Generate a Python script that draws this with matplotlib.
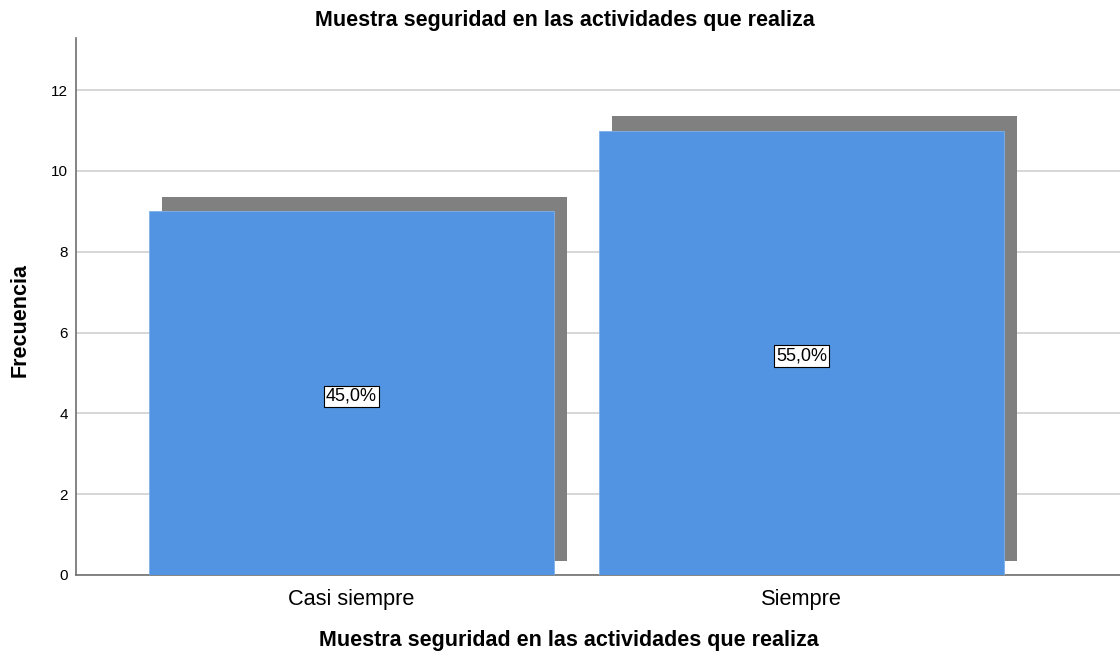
import matplotlib
matplotlib.use("Agg")
from matplotlib import pyplot as plt

categories = ["Casi siempre", "Siempre"]
counts = [9, 11]
percents = ["45,0%", "55,0%"]
y_ticks = [0, 2, 4, 6, 8, 10, 12]
title = "Muestra seguridad en las actividades que realiza"

plt.rcParams['font.family'] = ['Liberation Sans', 'DejaVu Sans']

fig = plt.figure(figsize=(11.2, 6.52), dpi=100)
ax = fig.add_axes([0.0679, 0.1181, 0.9321, 0.8236])

x = list(range(len(categories)))
width = 0.9
shift_x, shift_y = 0.029, 0.35

# shadow behind each bar
ax.bar([i + shift_x for i in x], counts, width=width, bottom=shift_y,
       color="#808080", zorder=2)
ax.bar(x, counts, width=width, color="#5294E2", edgecolor="#7FB0EA",
       linewidth=0.6, zorder=3)

for i, (c, p) in enumerate(zip(counts, percents)):
    ax.text(i, c / 2 - 0.08, p, ha="center", va="center", fontsize=13, zorder=4,
            bbox=dict(boxstyle="square,pad=0.12", fc="white", ec="black", lw=0.8))

ax.set_xlim(-0.612, 1.708)
ax.set_ylim(0, 13.29)
ax.set_yticks(y_ticks)
ax.set_xticks(x)
ax.set_xticklabels(categories, fontsize=15.7)
ax.tick_params(axis="y", labelsize=11, length=0, pad=6)
ax.tick_params(axis="x", length=0, pad=10)
ax.grid(axis="y", color="#D0D0D0", linewidth=1.2, zorder=1)
ax.set_axisbelow(True)

for s in ["top", "right"]:
    ax.spines[s].set_visible(False)
for s in ["left", "bottom"]:
    ax.spines[s].set_color("#707070")
    ax.spines[s].set_linewidth(1.2)

fig.text(0.504, 0.969, title, ha="center", va="center",
         fontsize=15.5, fontweight="bold")
fig.text(0.508, 0.0184, title, ha="center", va="center",
         fontsize=15.5, fontweight="bold")
fig.text(0.0179, 0.509, "Frecuencia", ha="center", va="center",
         rotation=90, fontsize=15.5, fontweight="bold")

fig.savefig("out.png", dpi=100)
